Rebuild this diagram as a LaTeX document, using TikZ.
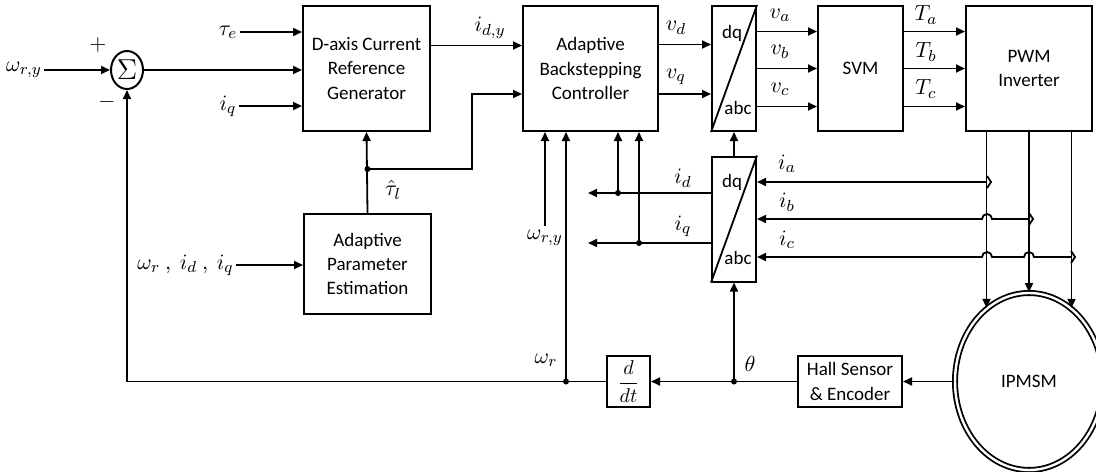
\documentclass[tikz,border=0pt]{standalone}
\usepackage{amsmath,amssymb}
\usepackage{fontspec}
\setmainfont{Carlito}
\usetikzlibrary{arrows.meta,positioning,calc,shapes.geometric}
\tikzset{
  box/.style={draw, line width=1pt, align=center, font=\fontsize{9.5}{12.2}\selectfont, inner sep=2pt, fill=white},
  conv/.style={draw, line width=1pt, minimum width=22pt, minimum height=62.5pt, inner sep=0pt},
  arr/.style={-{Triangle[length=4.5pt,width=4pt]}, line width=0.9pt},
  wire/.style={line width=0.9pt},
  lbl/.style={font=\fontsize{11}{13}\selectfont, inner sep=1pt},
  txt/.style={font=\fontsize{9.5}{12}\selectfont, inner sep=0pt},
  jn/.style={circle, fill, inner sep=0pt, minimum size=3pt}}

\begin{document}
\begin{tikzpicture}[x=0.5pt,y=-0.5pt]
  \useasboundingbox (0,0) rectangle (1096,471);
  \node[ellipse, draw, line width=1pt, minimum width=16pt, minimum height=19pt, inner sep=0pt, font=\Large] (sum) at (127,70) {$\Sigma$};
  \node[lbl] (wry) at (24,70) {$\omega_{r,y}$};
  \node[lbl] (plus) at (98,45) {$+$};
  \node[lbl] (minus) at (107,102) {$-$};
  \node[lbl] (taue) at (228,32) {$\tau_e$};
  \node[lbl] (iqin) at (228,106) {$i_q$};
  \node[box, minimum width=63.5pt, minimum height=62.5pt] (dcrg) at (366.5,68.5) {D-axis Current\\Reference\\Generator};
  \node[box, minimum width=67.5pt, minimum height=62.5pt] (abs) at (590.5,68.5) {Adaptive\\Backstepping\\Controller};
  \node[conv] (dqa) at (734,68.5) {};
  \node[box, minimum width=42.5pt, minimum height=62.5pt] (svm) at (860.5,68.5) {SVM};
  \node[box, minimum width=63pt, minimum height=62.5pt] (pwm) at (1029,68.5) {PWM\\Inverter};
  \node[conv] (dqb) at (734,219) {};
  \node[txt] (dqatop) at (732,33) {dq}; \node[txt] (dqabot) at (738,108) {abc};
  \node[txt] (dqbtop) at (732,182) {dq}; \node[txt] (dqbbot) at (738,258) {abc};
  \draw[wire] (dqa.south west) -- (dqa.north east); \draw[wire] (dqb.south west) -- (dqb.north east);
  \node[box, minimum width=63.5pt, minimum height=50pt] (ape) at (367.5,264) {Adaptive\\Parameter\\Estimation};
  \node[lbl, anchor=east] (apin) at (236,265) {$\omega_r\ ,\ i_d\ ,\ i_q$};
  \node[box, minimum width=21.5pt, minimum height=25.5pt, inner sep=0pt, font=\normalsize] (ddt) at (628.5,381.5) {$\dfrac{d}{dt}$};
  \node[box, minimum width=52pt, minimum height=25.5pt] (hall) at (850,381.5) {Hall Sensor\\\& Encoder};
  \node[ellipse, draw, double, double distance=1.2pt, line width=0.9pt, minimum width=74pt, minimum height=88.5pt, font=\fontsize{9.5}{12}\selectfont] (motor) at (1029,381.5) {IPMSM};
  \node[lbl] (idylbl) at (490,28) {$i_{d,y}$};
  \node[lbl] (vdlbl) at (676,28) {$v_d$}; \node[lbl] (vqlbl) at (676,77) {$v_q$};
  \node[lbl] (valbl) at (780,15) {$v_a$}; \node[lbl] (vblbl) at (780,52) {$v_b$}; \node[lbl] (vclbl) at (780,89) {$v_c$};
  \node[lbl] (talbl) at (926,15) {$T_a$}; \node[lbl] (tblbl) at (926,52) {$T_b$}; \node[lbl] (tclbl) at (926,89) {$T_c$};
  \node[lbl] (taulbl) at (393,190) {$\hat{\tau}_l$};
  \node[lbl] (idlbl) at (683,178) {$i_d$}; \node[lbl] (iqlbl) at (683,226) {$i_q$};
  \node[lbl] (ialbl) at (787,164) {$i_a$}; \node[lbl] (iblbl) at (787,202) {$i_b$}; \node[lbl] (iclbl) at (787,240) {$i_c$};
  \node[lbl] (wry2) at (545,238) {$\omega_{r,y}$};
  \node[lbl] (wrlbl) at (546,360) {$\omega_r$};
  \node[lbl] (thlbl) at (750,364) {$\theta$};
  \node[jn] (tj) at (367.5,169) {};
  \node[jn] (jd) at (618,193) {}; \node[jn] (jq) at (639,243) {};
  \node[jn] (jw) at (566,381.5) {}; \node[jn] (jt) at (734,381.5) {};
  \coordinate (idend) at (588,193); \coordinate (iqend) at (588,243);
  \coordinate (sa) at (987,182); \coordinate (sb) at (1029,219); \coordinate (sc) at (1071,257);
  \draw[arr] (wry) -- (sum); \draw[arr] (sum) -- (dcrg.west |- sum);
  \draw[arr] (taue) -- (dcrg.west |- taue); \draw[arr] (iqin) -- (dcrg.west |- iqin);
  \draw[arr] ([yshift=11.5pt]dcrg.east) -- ([yshift=11.5pt]abs.west);
  \draw[arr] (ape.north) -- (dcrg.south); \draw[arr] (tj.center) -| (472,94) -- ([yshift=-12.75pt]abs.west);
  \draw[arr] (apin) -- (ape.west |- apin);
  \draw[arr] ([yshift=12pt]abs.east) -- ([yshift=12pt]dqa.west); \draw[arr] ([yshift=-12.75pt]abs.east) -- ([yshift=-12.75pt]dqa.west);
  \draw[arr] ([yshift=18.5pt]dqa.east) -- ([yshift=18.5pt]svm.west); \draw[arr] (dqa.east) -- (svm.west); \draw[arr] ([yshift=-19pt]dqa.east) -- ([yshift=-19pt]svm.west);
  \draw[arr] ([yshift=18.5pt]svm.east) -- ([yshift=18.5pt]pwm.west); \draw[arr] (svm.east) -- (pwm.west); \draw[arr] ([yshift=-19pt]svm.east) -- ([yshift=-19pt]pwm.west);
  \draw[arr] (dqb.north) -- (dqa.south);
  \draw[arr] (dqb.west |- idend) -- (idend); \draw[arr] (dqb.west |- iqend) -- (iqend);
  \draw[arr] (jd.center) -- (abs.south -| jd); \draw[arr] (jq.center) -- (abs.south -| jq);
  \draw[arr] ([yshift=1pt]wry2.north) -- (abs.south -| wry2); \draw[arr] (jw.center) -- (abs.south -| jw);
  \draw[arr] (pwm.south -| motor.120) -- (motor.120); \draw[arr] (pwm.south) -- (motor.north); \draw[arr] (pwm.south -| motor.60) -- (motor.60);
  \draw[wire] ($(sa)+(0,-6)$) -- ($(sa)+(4,0)$) -- ($(sa)+(0,6)$);
  \draw[wire] ($(sb)+(0,-6)$) -- ($(sb)+(4,0)$) -- ($(sb)+(0,6)$);
  \draw[wire] ($(sc)+(0,-6)$) -- ($(sc)+(4,0)$) -- ($(sc)+(0,6)$);
  \draw[arr] (sa) -- (dqb.east |- sa);
  \draw[arr] (sb) -- (992,219) arc[start angle=0, end angle=180, radius=2.5pt] -- (dqb.east |- sb);
  \draw[arr] (sc) -- (1034,257) arc[start angle=0, end angle=180, radius=2.5pt] -- (992,257) arc[start angle=0, end angle=180, radius=2.5pt] -- (dqb.east |- sc);
  \draw[arr] (motor.west) -- (hall.east); \draw[arr] (hall.west) -- (ddt.east);
  \draw[arr] (jt.center) -- (dqb.south); \draw[arr] (ddt.west) -| (sum.south);
\end{tikzpicture}
\end{document}
